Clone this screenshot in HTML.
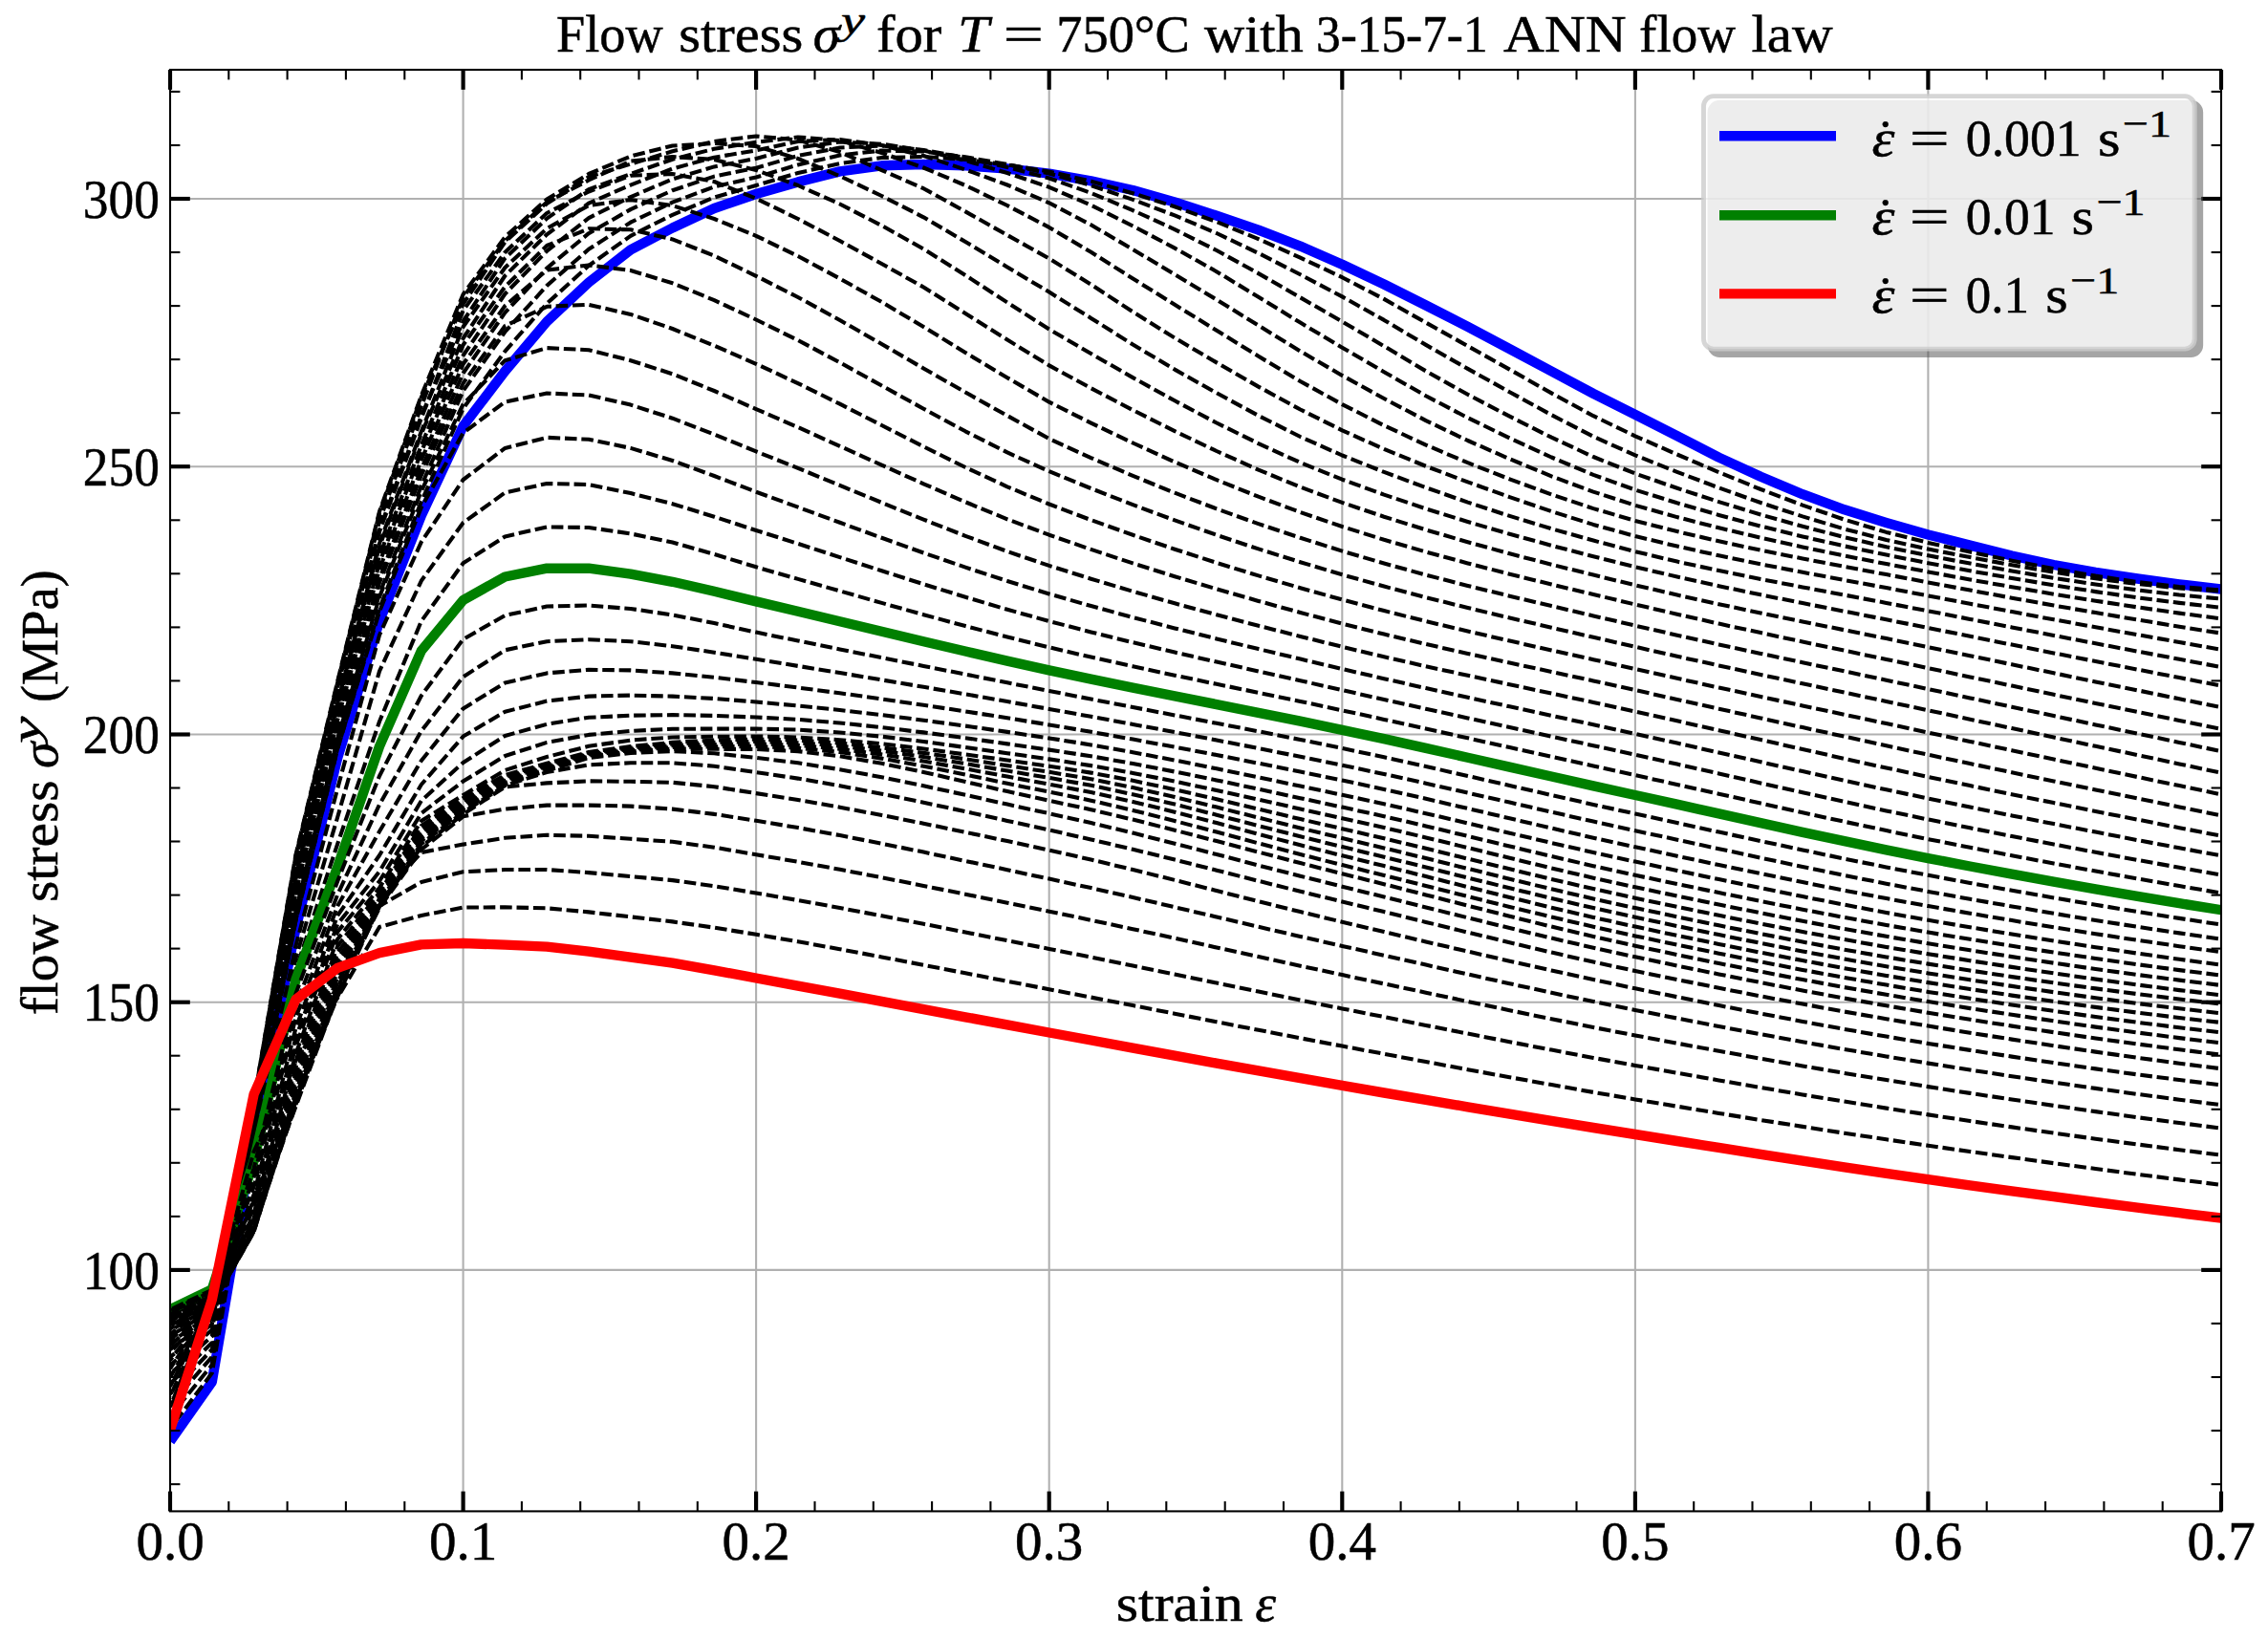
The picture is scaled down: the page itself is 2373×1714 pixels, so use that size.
<!DOCTYPE html>
<html lang="en"><head><meta charset="utf-8"><title>Flow stress for T = 750°C with 3-15-7-1 ANN flow law</title>
<style>html,body{margin:0;padding:0;background:#fff}svg{display:block}text{font-family:'Liberation Serif','DejaVu Serif',serif;fill:#000}.d{fill:none;stroke:#000;stroke-width:4.1;stroke-dasharray:12.6 4.8;stroke-dashoffset:14.3;stroke-linejoin:round}.c{fill:none;stroke-width:10.4;stroke-linejoin:round;stroke-linecap:butt}.g{stroke:#b0b0b0;stroke-width:2.08}.M{stroke:#000;stroke-width:4.17}.m{stroke:#000;stroke-width:2.08}</style></head><body>
<svg xmlns="http://www.w3.org/2000/svg" width="2373" height="1714" viewBox="0 0 2373 1714">
<rect width="2373" height="1714" fill="#fff"/>
<defs><clipPath id="ax"><rect x="178.0" y="73.0" width="2146.0" height="1508.4"/></clipPath></defs>
<g class="g">
<line x1="484.6" y1="73.0" x2="484.6" y2="1581.4"/>
<line x1="791.1" y1="73.0" x2="791.1" y2="1581.4"/>
<line x1="1097.7" y1="73.0" x2="1097.7" y2="1581.4"/>
<line x1="1404.3" y1="73.0" x2="1404.3" y2="1581.4"/>
<line x1="1710.9" y1="73.0" x2="1710.9" y2="1581.4"/>
<line x1="2017.4" y1="73.0" x2="2017.4" y2="1581.4"/>
<line x1="178.0" y1="1328.9" x2="2324.0" y2="1328.9"/>
<line x1="178.0" y1="1048.7" x2="2324.0" y2="1048.7"/>
<line x1="178.0" y1="768.5" x2="2324.0" y2="768.5"/>
<line x1="178.0" y1="488.2" x2="2324.0" y2="488.2"/>
<line x1="178.0" y1="208.0" x2="2324.0" y2="208.0"/>
</g>
<g clip-path="url(#ax)">
<polyline class="c" stroke="#0000ff" points="2324.0,616.5 2280.2,611.4 2236.4,605.5 2192.6,598.8 2148.8,591.0 2105.0,581.5 2061.2,570.6 2017.4,559.5 1973.6,546.9 1929.8,533.3 1886.0,517.2 1842.2,498.8 1798.4,478.6 1754.7,456.2 1710.9,433.8 1667.1,411.8 1623.3,388.5 1579.5,365.2 1535.7,341.9 1491.9,319.5 1448.1,297.5 1404.3,276.7 1360.5,257.6 1316.7,240.6 1272.9,225.7 1229.1,211.5 1185.3,199.0 1141.5,189.3 1097.7,181.7 1053.9,176.5 1010.1,173.3 966.3,172.0 922.5,173.3 878.7,179.4 834.9,190.4 791.1,203.0 747.3,218.0 703.6,238.5 659.8,261.3 616.0,295.5 572.2,336.5 528.4,388.3 484.6,445.9 440.8,539.5 397.0,650.0 353.2,793.0 309.4,972.0 265.6,1188.0 221.8,1445.9 178.0,1508.3"/>
<polyline class="d" points="2324.0,617.5 2280.2,614.0 2236.4,609.0 2192.6,602.6 2148.8,595.1 2105.0,586.7 2061.2,577.5 2017.4,567.9 1973.6,556.9 1929.8,543.7 1886.0,528.6 1842.2,512.0 1798.4,494.2 1754.7,475.5 1710.9,456.3 1667.1,435.2 1623.3,411.4 1579.5,386.6 1535.7,362.1 1491.9,337.6 1448.1,312.9 1404.3,290.2 1360.5,269.6 1316.7,250.1 1272.9,232.1 1229.1,216.3 1185.3,202.2 1141.5,189.6 1097.7,179.5 1053.9,172.5 1010.1,167.0 966.3,164.0 922.5,165.0 878.7,171.0 834.9,181.0 791.1,194.0 747.3,206.5 703.6,224.8 659.8,246.8 616.0,278.0 572.2,317.6 528.4,367.6 484.6,427.5 440.8,524.9 397.0,636.7 353.2,783.7 309.4,963.1 265.6,1183.9 221.8,1436.8 178.0,1494.8"/>
<polyline class="d" points="2324.0,618.7 2280.2,615.5 2236.4,611.0 2192.6,605.3 2148.8,598.7 2105.0,591.2 2061.2,583.1 2017.4,574.6 1973.6,564.9 1929.8,553.5 1886.0,540.4 1842.2,526.0 1798.4,510.4 1754.7,493.8 1710.9,476.4 1667.1,456.8 1623.3,434.2 1579.5,410.2 1535.7,385.9 1491.9,360.9 1448.1,334.9 1404.3,310.4 1360.5,287.3 1316.7,264.9 1272.9,244.0 1229.1,225.4 1185.3,208.9 1141.5,194.0 1097.7,181.5 1053.9,172.0 1010.1,164.3 966.3,158.5 922.5,157.5 878.7,162.5 834.9,172.5 791.1,185.5 747.3,195.4 703.6,211.7 659.8,232.7 616.0,260.8 572.2,298.9 528.4,347.2 484.6,409.0 440.8,508.3 397.0,621.5 353.2,773.1 309.4,952.8 265.6,1179.1 221.8,1428.2 178.0,1482.1"/>
<polyline class="d" points="2324.0,626.6 2280.2,622.5 2236.4,617.4 2192.6,611.5 2148.8,604.8 2105.0,597.5 2061.2,589.6 2017.4,581.3 1973.6,572.3 1929.8,562.1 1886.0,550.8 1842.2,538.5 1798.4,525.1 1754.7,510.8 1710.9,495.5 1667.1,478.0 1623.3,457.7 1579.5,435.7 1535.7,412.8 1491.9,388.3 1448.1,362.2 1404.3,336.5 1360.5,311.3 1316.7,286.1 1272.9,262.0 1229.1,240.1 1185.3,220.1 1141.5,201.9 1097.7,186.5 1053.9,175.0 1010.1,165.0 966.3,157.0 922.5,152.5 878.7,154.5 834.9,163.0 791.1,175.7 747.3,184.6 703.6,199.2 659.8,219.1 616.0,244.2 572.2,280.6 528.4,327.1 484.6,390.5 440.8,490.8 397.0,605.5 353.2,762.0 309.4,942.1 265.6,1174.1 221.8,1419.9 178.0,1470.0"/>
<polyline class="d" points="2324.0,635.8 2280.2,630.9 2236.4,625.3 2192.6,619.1 2148.8,612.3 2105.0,605.0 2061.2,597.3 2017.4,589.2 1973.6,580.6 1929.8,571.4 1886.0,561.4 1842.2,550.6 1798.4,538.9 1754.7,526.3 1710.9,512.6 1667.1,496.9 1623.3,478.5 1579.5,458.4 1535.7,437.2 1491.9,414.2 1448.1,389.2 1404.3,363.7 1360.5,337.6 1316.7,310.7 1272.9,284.2 1229.1,259.6 1185.3,236.5 1141.5,214.7 1097.7,195.8 1053.9,181.0 1010.1,168.0 966.3,157.5 922.5,150.7 878.7,148.5 834.9,154.5 791.1,165.9 747.3,174.4 703.6,187.4 659.8,206.1 616.0,228.1 572.2,262.7 528.4,307.5 484.6,372.0 440.8,472.6 397.0,588.9 353.2,750.4 309.4,930.9 265.6,1169.0 221.8,1412.2 178.0,1458.6"/>
<polyline class="d" points="2324.0,647.4 2280.2,641.6 2236.4,635.4 2192.6,628.7 2148.8,621.7 2105.0,614.2 2061.2,606.5 2017.4,598.4 1973.6,590.1 1929.8,581.5 1886.0,572.4 1842.2,562.7 1798.4,552.3 1754.7,541.1 1710.9,528.8 1667.1,514.6 1623.3,498.3 1579.5,480.2 1535.7,461.0 1491.9,440.1 1448.1,417.0 1404.3,392.9 1360.5,367.5 1316.7,340.6 1272.9,313.5 1229.1,287.1 1185.3,261.0 1141.5,235.3 1097.7,212.3 1053.9,193.5 1010.1,177.5 966.3,163.0 922.5,152.0 878.7,146.0 834.9,148.0 791.1,157.4 747.3,164.7 703.6,176.5 659.8,193.6 616.0,212.7 572.2,245.3 528.4,288.5 484.6,354.0 440.8,454.0 397.0,571.9 353.2,738.6 309.4,919.5 265.6,1163.7 221.8,1405.0 178.0,1447.9"/>
<polyline class="d" points="2324.0,662.6 2280.2,655.7 2236.4,648.5 2192.6,641.1 2148.8,633.5 2105.0,625.7 2061.2,617.6 2017.4,609.4 1973.6,601.1 1929.8,592.9 1886.0,584.5 1842.2,575.7 1798.4,566.3 1754.7,556.1 1710.9,544.9 1667.1,532.1 1623.3,517.4 1579.5,501.3 1535.7,484.2 1491.9,465.6 1448.1,445.2 1404.3,423.1 1360.5,399.0 1316.7,372.8 1272.9,345.8 1229.1,318.8 1185.3,291.5 1141.5,263.8 1097.7,237.9 1053.9,215.0 1010.1,194.0 966.3,175.5 922.5,160.0 878.7,147.0 834.9,143.5 791.1,148.8 747.3,155.8 703.6,166.7 659.8,182.0 616.0,198.1 572.2,228.6 528.4,270.2 484.6,336.0 440.8,435.1 397.0,554.6 353.2,726.5 309.4,907.8 265.6,1158.3 221.8,1398.2 178.0,1437.9"/>
<polyline class="d" points="2324.0,679.7 2280.2,672.0 2236.4,664.2 2192.6,656.3 2148.8,648.3 2105.0,640.1 2061.2,631.8 2017.4,623.4 1973.6,615.1 1929.8,607.0 1886.0,598.8 1842.2,590.3 1798.4,581.3 1754.7,571.6 1710.9,561.0 1667.1,548.9 1623.3,535.1 1579.5,520.1 1535.7,504.4 1491.9,487.8 1448.1,469.9 1404.3,450.3 1360.5,428.5 1316.7,404.6 1272.9,379.4 1229.1,353.6 1185.3,326.3 1141.5,297.7 1097.7,270.5 1053.9,246.0 1010.1,221.4 966.3,197.2 922.5,178.1 878.7,159.0 834.9,146.5 791.1,142.5 747.3,148.0 703.6,158.3 659.8,171.6 616.0,185.1 572.2,213.1 528.4,253.2 484.6,318.0 440.8,415.8 397.0,536.9 353.2,714.2 309.4,896.0 265.6,1152.8 221.8,1391.6 178.0,1428.6"/>
<polyline class="d" points="2324.0,698.0 2280.2,689.8 2236.4,681.6 2192.6,673.3 2148.8,664.9 2105.0,656.4 2061.2,647.9 2017.4,639.3 1973.6,630.9 1929.8,622.6 1886.0,614.4 1842.2,606.0 1798.4,597.1 1754.7,587.6 1710.9,577.1 1667.1,565.6 1623.3,553.3 1579.5,539.9 1535.7,525.6 1491.9,510.2 1448.1,493.9 1404.3,476.5 1360.5,457.0 1316.7,434.9 1272.9,411.2 1229.1,386.6 1185.3,360.5 1141.5,332.9 1097.7,305.6 1053.9,279.5 1010.1,253.0 966.3,227.3 922.5,205.0 878.7,184.2 834.9,166.0 791.1,153.0 747.3,150.0 703.6,152.5 659.8,163.5 616.0,182.0 572.2,208.5 528.4,248.0 484.6,308.0 440.8,414.0 397.0,535.2 353.2,712.8 309.4,894.7 265.6,1152.6 221.8,1385.5 178.0,1420.0"/>
<polyline class="d" points="2324.0,717.6 2280.2,709.1 2236.4,700.6 2192.6,692.0 2148.8,683.4 2105.0,674.6 2061.2,665.8 2017.4,657.0 1973.6,648.3 1929.8,639.7 1886.0,631.1 1842.2,622.3 1798.4,613.2 1754.7,603.5 1710.9,593.2 1667.1,582.3 1623.3,570.8 1579.5,558.8 1535.7,546.0 1491.9,532.3 1448.1,517.6 1404.3,501.7 1360.5,484.0 1316.7,464.1 1272.9,442.5 1229.1,419.3 1185.3,395.1 1141.5,370.0 1097.7,344.5 1053.9,316.5 1010.1,288.0 966.3,260.5 922.5,236.0 878.7,213.5 834.9,194.0 791.1,178.0 747.3,167.0 703.6,164.0 659.8,168.6 616.0,188.5 572.2,211.5 528.4,252.0 484.6,311.0 440.8,425.1 397.0,545.1 353.2,719.4 309.4,901.3 265.6,1156.1 221.8,1379.9 178.0,1412.0"/>
<polyline class="d" points="2324.0,740.2 2280.2,731.3 2236.4,722.3 2192.6,713.4 2148.8,704.3 2105.0,695.3 2061.2,686.2 2017.4,677.1 1973.6,668.1 1929.8,659.3 1886.0,650.4 1842.2,641.5 1798.4,632.2 1754.7,622.5 1710.9,612.3 1667.1,601.6 1623.3,590.7 1579.5,579.3 1535.7,567.2 1491.9,554.4 1448.1,540.7 1404.3,525.9 1360.5,509.6 1316.7,491.6 1272.9,472.0 1229.1,451.1 1185.3,429.1 1141.5,406.2 1097.7,382.4 1053.9,355.5 1010.1,328.0 966.3,300.5 922.5,276.0 878.7,252.0 834.9,229.0 791.1,207.7 747.3,190.0 703.6,182.0 659.8,183.8 616.0,200.5 572.2,223.0 528.4,264.0 484.6,325.0 440.8,437.7 397.0,556.4 353.2,727.0 309.4,908.7 265.6,1160.1 221.8,1375.0 178.0,1404.8"/>
<polyline class="d" points="2324.0,762.8 2280.2,753.9 2236.4,744.9 2192.6,735.9 2148.8,726.8 2105.0,717.6 2061.2,708.4 2017.4,699.1 1973.6,689.9 1929.8,680.7 1886.0,671.5 1842.2,662.1 1798.4,652.6 1754.7,642.7 1710.9,632.5 1667.1,622.0 1623.3,611.5 1579.5,600.7 1535.7,589.4 1491.9,577.5 1448.1,564.8 1404.3,551.0 1360.5,536.0 1316.7,519.7 1272.9,502.1 1229.1,483.4 1185.3,463.5 1141.5,442.6 1097.7,420.7 1053.9,395.2 1010.1,369.0 966.3,342.0 922.5,316.0 878.7,291.5 834.9,268.0 791.1,246.8 747.3,229.0 703.6,215.1 659.8,209.1 616.0,215.0 572.2,239.0 528.4,280.0 484.6,342.0 440.8,451.4 397.0,568.6 353.2,735.2 309.4,916.9 265.6,1164.5 221.8,1370.6 178.0,1398.2"/>
<polyline class="d" points="2324.0,786.1 2280.2,776.9 2236.4,767.6 2192.6,758.4 2148.8,749.1 2105.0,739.7 2061.2,730.4 2017.4,721.0 1973.6,711.7 1929.8,702.4 1886.0,693.2 1842.2,683.9 1798.4,674.4 1754.7,664.7 1710.9,654.6 1667.1,644.4 1623.3,634.1 1579.5,623.7 1535.7,612.9 1491.9,601.6 1448.1,589.5 1404.3,576.6 1360.5,562.8 1316.7,548.1 1272.9,532.4 1229.1,515.7 1185.3,497.9 1141.5,479.1 1097.7,459.0 1053.9,435.0 1010.1,410.5 966.3,385.5 922.5,360.0 878.7,335.0 834.9,311.0 791.1,288.8 747.3,267.6 703.6,250.4 659.8,240.3 616.0,239.3 572.2,257.0 528.4,300.0 484.6,361.0 440.8,466.0 397.0,581.7 353.2,744.0 309.4,925.5 265.6,1169.2 221.8,1366.5 178.0,1392.4"/>
<polyline class="d" points="2324.0,808.7 2280.2,799.4 2236.4,790.1 2192.6,780.8 2148.8,771.5 2105.0,762.1 2061.2,752.7 2017.4,743.3 1973.6,733.9 1929.8,724.6 1886.0,715.3 1842.2,705.9 1798.4,696.4 1754.7,686.8 1710.9,676.8 1667.1,666.8 1623.3,656.7 1579.5,646.5 1535.7,636.0 1491.9,625.1 1448.1,613.6 1404.3,601.3 1360.5,588.2 1316.7,574.4 1272.9,559.8 1229.1,544.4 1185.3,528.2 1141.5,511.1 1097.7,493.2 1053.9,473.4 1010.1,451.3 966.3,427.7 922.5,403.5 878.7,379.3 834.9,356.0 791.1,334.5 747.3,314.1 703.6,296.3 659.8,283.0 616.0,277.5 572.2,282.6 528.4,320.0 484.6,381.0 440.8,481.3 397.0,595.5 353.2,753.2 309.4,934.6 265.6,1174.1 221.8,1362.7 178.0,1387.2"/>
<polyline class="d" points="2324.0,831.3 2280.2,822.1 2236.4,813.0 2192.6,803.7 2148.8,794.5 2105.0,785.2 2061.2,775.9 2017.4,766.5 1973.6,757.1 1929.8,747.8 1886.0,738.4 1842.2,729.0 1798.4,719.5 1754.7,709.8 1710.9,700.0 1667.1,690.2 1623.3,680.4 1579.5,670.6 1535.7,660.5 1491.9,650.1 1448.1,639.1 1404.3,627.5 1360.5,615.2 1316.7,602.4 1272.9,588.9 1229.1,574.7 1185.3,559.8 1141.5,544.1 1097.7,527.5 1053.9,509.3 1010.1,489.0 966.3,467.3 922.5,445.0 878.7,422.7 834.9,401.1 791.1,380.8 747.3,361.7 703.6,344.0 659.8,328.9 616.0,318.8 572.2,320.8 528.4,341.0 484.6,401.0 440.8,497.3 397.0,609.8 353.2,762.8 309.4,944.1 265.6,1179.2 221.8,1359.5 178.0,1382.7"/>
<polyline class="d" points="2324.0,853.3 2280.2,844.5 2236.4,835.5 2192.6,826.5 2148.8,817.4 2105.0,808.3 2061.2,799.0 2017.4,789.7 1973.6,780.3 1929.8,770.7 1886.0,761.1 1842.2,751.4 1798.4,741.7 1754.7,731.9 1710.9,722.1 1667.1,712.4 1623.3,703.0 1579.5,693.5 1535.7,683.9 1491.9,674.0 1448.1,663.6 1404.3,652.6 1360.5,641.0 1316.7,628.9 1272.9,616.3 1229.1,603.2 1185.3,589.4 1141.5,574.9 1097.7,559.7 1053.9,543.3 1010.1,525.3 966.3,506.3 922.5,486.6 878.7,466.8 834.9,447.1 791.1,428.1 747.3,409.0 703.6,391.3 659.8,377.2 616.0,366.2 572.2,364.1 528.4,377.2 484.6,423.0 440.8,513.9 397.0,624.7 353.2,772.7 309.4,953.9 265.6,1184.5 221.8,1357.0 178.0,1378.9"/>
<polyline class="d" points="2324.0,874.6 2280.2,866.2 2236.4,857.6 2192.6,849.0 2148.8,840.1 2105.0,831.2 2061.2,822.1 2017.4,812.9 1973.6,803.5 1929.8,793.9 1886.0,784.0 1842.2,774.1 1798.4,764.2 1754.7,754.3 1710.9,744.5 1667.1,734.9 1623.3,725.6 1579.5,716.2 1535.7,706.8 1491.9,697.2 1448.1,687.3 1404.3,676.8 1360.5,665.9 1316.7,654.8 1272.9,643.3 1229.1,631.3 1185.3,618.8 1141.5,605.7 1097.7,591.9 1053.9,577.0 1010.1,560.8 966.3,543.6 922.5,525.9 878.7,507.9 834.9,489.9 791.1,472.4 747.3,454.6 703.6,437.7 659.8,423.6 616.0,413.5 572.2,411.5 528.4,420.5 484.6,453.0 440.8,531.0 397.0,640.0 353.2,783.0 309.4,964.0 265.6,1190.0 221.8,1354.8 178.0,1375.8"/>
<polyline class="d" points="2324.0,895.4 2280.2,887.3 2236.4,879.1 2192.6,870.6 2148.8,862.1 2105.0,853.4 2061.2,844.5 2017.4,835.5 1973.6,826.3 1929.8,816.8 1886.0,807.1 1842.2,797.3 1798.4,787.5 1754.7,777.6 1710.9,767.9 1667.1,758.3 1623.3,748.8 1579.5,739.3 1535.7,729.8 1491.9,720.1 1448.1,710.2 1404.3,700.0 1360.5,689.6 1316.7,679.1 1272.9,668.4 1229.1,657.4 1185.3,646.0 1141.5,634.1 1097.7,621.5 1053.9,608.0 1010.1,593.6 966.3,578.5 922.5,562.8 878.7,546.8 834.9,530.7 791.1,514.7 747.3,498.0 703.6,482.0 659.8,468.9 616.0,459.8 572.2,457.8 528.4,468.9 484.6,502.0 440.8,567.2 397.0,664.5 353.2,825.0 309.4,990.0 265.6,1196.6 221.8,1352.7 178.0,1373.4"/>
<polyline class="d" points="2324.0,915.5 2280.2,907.8 2236.4,899.9 2192.6,891.8 2148.8,883.5 2105.0,875.0 2061.2,866.3 2017.4,857.5 1973.6,848.4 1929.8,838.9 1886.0,829.2 1842.2,819.4 1798.4,809.4 1754.7,799.6 1710.9,789.8 1667.1,780.2 1623.3,770.6 1579.5,761.0 1535.7,751.4 1491.9,741.8 1448.1,732.0 1404.3,722.1 1360.5,712.2 1316.7,702.4 1272.9,692.6 1229.1,682.5 1185.3,672.2 1141.5,661.4 1097.7,650.0 1053.9,637.8 1010.1,624.8 966.3,611.2 922.5,597.3 878.7,583.1 834.9,568.9 791.1,555.0 747.3,540.7 703.6,527.2 659.8,516.1 616.0,507.0 572.2,506.0 528.4,515.5 484.6,547.0 440.8,607.8 397.0,702.4 353.2,855.0 309.4,1003.0 265.6,1203.0 221.8,1350.9 178.0,1371.7"/>
<polyline class="d" points="2324.0,934.5 2280.2,927.1 2236.4,919.4 2192.6,911.6 2148.8,903.5 2105.0,895.2 2061.2,886.8 2017.4,878.1 1973.6,869.1 1929.8,859.8 1886.0,850.3 1842.2,840.5 1798.4,830.7 1754.7,820.9 1710.9,811.2 1667.1,801.5 1623.3,791.8 1579.5,782.1 1535.7,772.3 1491.9,762.6 1448.1,752.9 1404.3,743.3 1360.5,733.9 1316.7,724.8 1272.9,715.8 1229.1,706.7 1185.3,697.3 1141.5,687.6 1097.7,677.4 1053.9,666.5 1010.1,655.1 966.3,643.2 922.5,630.9 878.7,618.4 834.9,605.9 791.1,593.3 747.3,579.9 703.6,567.5 659.8,558.4 616.0,552.0 572.2,551.4 528.4,561.4 484.6,589.3 440.8,650.0 397.0,755.0 353.2,883.0 309.4,1015.0 265.6,1208.7 221.8,1349.7 178.0,1370.6"/>
<polyline class="c" stroke="#008000" points="2324.0,952.2 2280.2,945.2 2236.4,937.9 2192.6,930.4 2148.8,922.7 2105.0,914.7 2061.2,906.5 2017.4,898.1 1973.6,889.4 1929.8,880.2 1886.0,870.8 1842.2,861.2 1798.4,851.4 1754.7,841.7 1710.9,832.0 1667.1,822.3 1623.3,812.5 1579.5,802.6 1535.7,792.7 1491.9,782.9 1448.1,773.2 1404.3,763.8 1360.5,754.7 1316.7,745.8 1272.9,737.1 1229.1,728.4 1185.3,719.6 1141.5,710.6 1097.7,701.3 1053.9,691.6 1010.1,681.5 966.3,671.2 922.5,660.8 878.7,650.3 834.9,639.8 791.1,629.4 747.3,618.8 703.6,608.8 659.8,600.7 616.0,594.7 572.2,594.7 528.4,603.5 484.6,628.0 440.8,681.0 397.0,781.0 353.2,907.0 309.4,1025.4 265.6,1214.8 221.8,1349.2 178.0,1370.3"/>
<polyline class="d" points="2324.0,967.5 2280.2,960.9 2236.4,954.0 2192.6,946.8 2148.8,939.4 2105.0,931.8 2061.2,923.9 2017.4,915.8 1973.6,907.4 1929.8,898.6 1886.0,889.4 1842.2,880.1 1798.4,870.6 1754.7,861.0 1710.9,851.5 1667.1,841.9 1623.3,832.0 1579.5,822.0 1535.7,812.0 1491.9,802.0 1448.1,792.3 1404.3,783.0 1360.5,774.0 1316.7,765.3 1272.9,756.8 1229.1,748.4 1185.3,740.0 1141.5,731.6 1097.7,723.0 1053.9,714.3 1010.1,705.6 966.3,696.9 922.5,688.2 878.7,679.4 834.9,670.5 791.1,661.6 747.3,652.1 703.6,643.4 659.8,637.0 616.0,633.5 572.2,634.5 528.4,644.0 484.6,668.9 440.8,728.0 397.0,812.0 353.2,922.0 309.4,1040.0 265.6,1222.8 221.8,1349.8 178.0,1370.6"/>
<polyline class="d" points="2324.0,982.7 2280.2,976.4 2236.4,969.8 2192.6,963.0 2148.8,955.8 2105.0,948.4 2061.2,940.8 2017.4,932.9 1973.6,924.7 1929.8,916.0 1886.0,906.9 1842.2,897.6 1798.4,888.2 1754.7,878.7 1710.9,869.2 1667.1,859.6 1623.3,849.7 1579.5,839.6 1535.7,829.6 1491.9,819.7 1448.1,810.0 1404.3,800.7 1360.5,791.8 1316.7,783.0 1272.9,774.5 1229.1,766.1 1185.3,757.9 1141.5,749.8 1097.7,741.9 1053.9,734.1 1010.1,726.4 966.3,718.8 922.5,711.4 878.7,704.1 834.9,696.9 791.1,689.8 747.3,682.7 703.6,676.2 659.8,671.2 616.0,669.2 572.2,671.2 528.4,680.3 484.6,708.2 440.8,765.0 397.0,842.0 353.2,936.0 309.4,1053.0 265.6,1232.2 221.8,1351.5 178.0,1371.6"/>
<polyline class="d" points="2324.0,996.2 2280.2,990.2 2236.4,983.8 2192.6,977.2 2148.8,970.3 2105.0,963.1 2061.2,955.7 2017.4,948.1 1973.6,940.1 1929.8,931.8 1886.0,923.1 1842.2,914.1 1798.4,905.0 1754.7,895.7 1710.9,886.3 1667.1,876.7 1623.3,866.6 1579.5,856.3 1535.7,846.0 1491.9,835.8 1448.1,825.9 1404.3,816.5 1360.5,807.5 1316.7,798.7 1272.9,790.0 1229.1,781.7 1185.3,773.6 1141.5,765.8 1097.7,758.4 1053.9,751.3 1010.1,744.4 966.3,737.8 922.5,731.4 878.7,725.3 834.9,719.5 791.1,714.0 747.3,708.8 703.6,704.4 659.8,701.4 616.0,700.8 572.2,704.4 528.4,714.5 484.6,741.4 440.8,796.0 397.0,870.0 353.2,948.0 309.4,1065.0 265.6,1241.7 221.8,1353.7 178.0,1373.1"/>
<polyline class="d" points="2324.0,1009.6 2280.2,1003.8 2236.4,997.6 2192.6,991.2 2148.8,984.5 2105.0,977.5 2061.2,970.3 2017.4,962.8 1973.6,955.0 1929.8,946.7 1886.0,938.1 1842.2,929.2 1798.4,920.1 1754.7,910.9 1710.9,901.6 1667.1,892.0 1623.3,882.0 1579.5,871.7 1535.7,861.4 1491.9,851.2 1448.1,841.3 1404.3,831.8 1360.5,822.6 1316.7,813.4 1272.9,804.3 1229.1,795.5 1185.3,787.2 1141.5,779.4 1097.7,772.4 1053.9,765.9 1010.1,759.6 966.3,753.7 922.5,748.1 878.7,743.0 834.9,738.5 791.1,734.5 747.3,731.0 703.6,728.6 659.8,727.6 616.0,728.6 572.2,733.6 528.4,744.7 484.6,770.6 440.8,821.0 397.0,895.0 353.2,958.0 309.4,1076.0 265.6,1250.0 221.8,1356.0 178.0,1375.3"/>
<polyline class="d" points="2324.0,1020.6 2280.2,1015.1 2236.4,1009.2 2192.6,1003.0 2148.8,996.6 2105.0,989.8 2061.2,982.8 2017.4,975.6 1973.6,968.0 1929.8,960.0 1886.0,951.7 1842.2,943.0 1798.4,934.1 1754.7,925.0 1710.9,915.8 1667.1,906.2 1623.3,896.0 1579.5,885.5 1535.7,874.9 1491.9,864.4 1448.1,854.2 1404.3,844.6 1360.5,835.2 1316.7,825.7 1272.9,816.4 1229.1,807.5 1185.3,799.0 1141.5,791.3 1097.7,784.6 1053.9,778.4 1010.1,772.2 966.3,766.4 922.5,761.1 878.7,756.5 834.9,752.9 791.1,750.5 747.3,748.9 703.6,748.1 659.8,748.7 616.0,750.8 572.2,757.8 528.4,769.9 484.6,798.0 440.8,838.0 397.0,912.0 353.2,967.0 309.4,1086.0 265.6,1257.2 221.8,1358.0 178.0,1378.2"/>
<polyline class="d" points="2324.0,1031.0 2280.2,1025.6 2236.4,1020.0 2192.6,1014.0 2148.8,1007.7 2105.0,1001.1 2061.2,994.3 2017.4,987.2 1973.6,979.8 1929.8,972.0 1886.0,963.8 1842.2,955.3 1798.4,946.5 1754.7,937.5 1710.9,928.3 1667.1,918.7 1623.3,908.4 1579.5,897.8 1535.7,887.1 1491.9,876.4 1448.1,866.0 1404.3,856.2 1360.5,846.5 1316.7,836.7 1272.9,827.0 1229.1,817.6 1185.3,808.9 1141.5,801.1 1097.7,794.4 1053.9,788.2 1010.1,782.0 966.3,776.0 922.5,770.7 878.7,766.5 834.9,763.6 791.1,762.6 747.3,762.6 703.6,762.8 659.8,764.9 616.0,768.9 572.2,776.9 528.4,791.0 484.6,817.5 440.8,851.0 397.0,922.0 353.2,975.0 309.4,1095.0 265.6,1263.9 221.8,1359.9 178.0,1381.6"/>
<polyline class="d" points="2324.0,1041.3 2280.2,1036.1 2236.4,1030.5 2192.6,1024.6 2148.8,1018.4 2105.0,1011.9 2061.2,1005.2 2017.4,998.2 1973.6,990.9 1929.8,983.1 1886.0,975.0 1842.2,966.6 1798.4,957.8 1754.7,948.9 1710.9,939.7 1667.1,930.1 1623.3,919.9 1579.5,909.3 1535.7,898.6 1491.9,887.8 1448.1,877.3 1404.3,867.2 1360.5,857.1 1316.7,846.6 1272.9,836.2 1229.1,826.2 1185.3,816.8 1141.5,808.6 1097.7,801.7 1053.9,795.5 1010.1,789.4 966.3,783.5 922.5,778.3 878.7,774.2 834.9,771.5 791.1,770.5 747.3,770.8 703.6,771.5 659.8,774.6 616.0,780.8 572.2,792.0 528.4,806.0 484.6,832.0 440.8,859.0 397.0,929.0 353.2,982.7 309.4,1102.8 265.6,1269.9 221.8,1362.0 178.0,1385.7"/>
<polyline class="d" points="2324.0,1050.5 2280.2,1045.5 2236.4,1040.1 2192.6,1034.4 2148.8,1028.4 2105.0,1022.1 2061.2,1015.5 2017.4,1008.6 1973.6,1001.4 1929.8,993.7 1886.0,985.6 1842.2,977.1 1798.4,968.3 1754.7,959.3 1710.9,950.1 1667.1,940.5 1623.3,930.3 1579.5,919.7 1535.7,908.9 1491.9,898.1 1448.1,887.4 1404.3,877.0 1360.5,866.5 1316.7,855.6 1272.9,844.6 1229.1,834.0 1185.3,824.1 1141.5,815.2 1097.7,807.8 1053.9,801.1 1010.1,794.3 966.3,787.9 922.5,782.2 878.7,777.6 834.9,774.6 791.1,773.5 747.3,774.5 703.6,776.9 659.8,781.1 616.0,787.0 572.2,798.8 528.4,811.0 484.6,835.0 440.8,864.0 397.0,934.0 353.2,990.0 309.4,1110.0 265.6,1275.0 221.8,1364.0 178.0,1390.4"/>
<polyline class="d" points="2324.0,1060.3 2280.2,1055.3 2236.4,1050.0 2192.6,1044.2 2148.8,1038.2 2105.0,1031.9 2061.2,1025.3 2017.4,1018.4 1973.6,1011.2 1929.8,1003.5 1886.0,995.4 1842.2,986.9 1798.4,978.1 1754.7,969.0 1710.9,959.8 1667.1,950.1 1623.3,939.9 1579.5,929.3 1535.7,918.5 1491.9,907.5 1448.1,896.7 1404.3,886.1 1360.5,875.3 1316.7,864.1 1272.9,852.7 1229.1,841.6 1185.3,831.2 1141.5,821.8 1097.7,813.9 1053.9,806.6 1010.1,799.1 966.3,792.0 922.5,785.7 878.7,780.6 834.9,777.2 791.1,776.0 747.3,776.8 703.6,778.5 659.8,782.5 616.0,788.1 572.2,800.2 528.4,813.0 484.6,838.0 440.8,867.7 397.0,937.4 353.2,996.9 309.4,1116.9 265.6,1279.5 221.8,1365.4 178.0,1395.8"/>
<polyline class="d" points="2324.0,1070.0 2280.2,1065.0 2236.4,1059.6 2192.6,1053.9 2148.8,1047.9 2105.0,1041.6 2061.2,1035.0 2017.4,1028.1 1973.6,1020.9 1929.8,1013.2 1886.0,1005.1 1842.2,996.7 1798.4,987.9 1754.7,978.9 1710.9,969.6 1667.1,959.9 1623.3,949.7 1579.5,939.0 1535.7,928.1 1491.9,917.1 1448.1,906.1 1404.3,895.3 1360.5,884.3 1316.7,872.8 1272.9,861.1 1229.1,849.7 1185.3,838.9 1141.5,829.1 1097.7,820.6 1053.9,812.6 1010.1,804.4 966.3,796.5 922.5,789.4 878.7,783.7 834.9,779.9 791.1,778.5 747.3,779.0 703.6,780.2 659.8,783.8 616.0,789.2 572.2,801.8 528.4,815.0 484.6,841.0 440.8,871.0 397.0,940.0 353.2,1003.6 309.4,1123.6 265.6,1283.5 221.8,1366.0 178.0,1401.8"/>
<polyline class="d" points="2324.0,1080.4 2280.2,1075.3 2236.4,1069.8 2192.6,1064.0 2148.8,1057.9 2105.0,1051.5 2061.2,1044.8 2017.4,1037.9 1973.6,1030.6 1929.8,1022.9 1886.0,1014.9 1842.2,1006.4 1798.4,997.7 1754.7,988.6 1710.9,979.4 1667.1,969.7 1623.3,959.5 1579.5,948.9 1535.7,938.0 1491.9,927.0 1448.1,916.0 1404.3,905.1 1360.5,894.0 1316.7,882.4 1272.9,870.6 1229.1,859.0 1185.3,847.9 1141.5,837.7 1097.7,828.6 1053.9,819.8 1010.1,810.6 966.3,801.7 922.5,793.6 878.7,787.0 834.9,782.6 791.1,781.0 747.3,781.3 703.6,782.0 659.8,785.0 616.0,790.4 572.2,803.2 528.4,817.0 484.6,843.5 440.8,874.1 397.0,942.2 353.2,1010.0 309.4,1130.0 265.6,1286.0 221.8,1366.0 178.0,1408.4"/>
<polyline class="d" points="2324.0,1091.4 2280.2,1086.1 2236.4,1080.5 2192.6,1074.6 2148.8,1068.3 2105.0,1061.8 2061.2,1055.1 2017.4,1048.1 1973.6,1040.8 1929.8,1033.1 1886.0,1025.1 1842.2,1016.7 1798.4,1008.0 1754.7,999.0 1710.9,989.7 1667.1,979.9 1623.3,969.6 1579.5,958.7 1535.7,947.6 1491.9,936.4 1448.1,925.2 1404.3,914.2 1360.5,903.1 1316.7,891.6 1272.9,880.1 1229.1,868.7 1185.3,857.6 1141.5,847.2 1097.7,837.7 1053.9,828.1 1010.1,818.0 966.3,807.9 922.5,798.8 878.7,791.3 834.9,786.1 791.1,784.0 747.3,783.8 703.6,783.6 659.8,786.4 616.0,791.5 572.2,804.8 528.4,819.0 484.6,846.0 440.8,877.0 397.0,944.0 353.2,1016.3 309.4,1136.4 265.6,1287.5 221.8,1366.0 178.0,1415.6"/>
<polyline class="d" points="2324.0,1103.7 2280.2,1098.3 2236.4,1092.5 2192.6,1086.5 2148.8,1080.2 2105.0,1073.6 2061.2,1066.8 2017.4,1059.7 1973.6,1052.3 1929.8,1044.6 1886.0,1036.5 1842.2,1028.1 1798.4,1019.4 1754.7,1010.5 1710.9,1001.3 1667.1,991.7 1623.3,981.6 1579.5,971.1 1535.7,960.3 1491.9,949.4 1448.1,938.5 1404.3,927.7 1360.5,916.7 1316.7,905.5 1272.9,894.0 1229.1,882.7 1185.3,871.6 1141.5,861.1 1097.7,851.2 1053.9,841.6 1010.1,831.8 966.3,822.3 922.5,813.3 878.7,805.2 834.9,798.3 791.1,792.9 747.3,788.3 703.6,786.0 659.8,788.0 616.0,793.0 572.2,806.5 528.4,821.0 484.6,848.0 440.8,880.0 397.0,945.6 353.2,1022.5 309.4,1142.6 265.6,1288.6 221.8,1366.0 178.0,1423.5"/>
<polyline class="d" points="2324.0,1118.3 2280.2,1112.7 2236.4,1106.8 2192.6,1100.6 2148.8,1094.2 2105.0,1087.6 2061.2,1080.7 2017.4,1073.6 1973.6,1066.2 1929.8,1058.6 1886.0,1050.6 1842.2,1042.4 1798.4,1033.8 1754.7,1025.0 1710.9,1016.0 1667.1,1006.5 1623.3,996.6 1579.5,986.2 1535.7,975.6 1491.9,964.9 1448.1,954.1 1404.3,943.5 1360.5,932.8 1316.7,921.8 1272.9,910.7 1229.1,899.6 1185.3,888.8 1141.5,878.4 1097.7,868.5 1053.9,858.9 1010.1,849.2 966.3,839.7 922.5,830.7 878.7,822.2 834.9,814.6 791.1,808.1 747.3,801.7 703.6,798.3 659.8,798.3 616.0,800.3 572.2,808.0 528.4,822.0 484.6,850.0 440.8,883.0 397.0,947.0 353.2,1028.0 309.4,1148.0 265.6,1289.0 221.8,1366.0 178.0,1432.0"/>
<polyline class="d" points="2324.0,1135.4 2280.2,1130.0 2236.4,1124.4 2192.6,1118.4 2148.8,1112.1 2105.0,1105.6 2061.2,1098.9 2017.4,1091.9 1973.6,1084.6 1929.8,1076.9 1886.0,1068.9 1842.2,1060.6 1798.4,1052.0 1754.7,1043.2 1710.9,1034.3 1667.1,1025.1 1623.3,1015.5 1579.5,1005.7 1535.7,995.6 1491.9,985.4 1448.1,975.0 1404.3,964.7 1360.5,954.1 1316.7,943.2 1272.9,932.0 1229.1,920.9 1185.3,910.0 1141.5,899.5 1097.7,889.6 1053.9,880.1 1010.1,870.8 966.3,861.7 922.5,853.0 878.7,844.7 834.9,837.0 791.1,830.1 747.3,823.2 703.6,818.8 659.8,817.8 616.0,817.4 572.2,819.4 528.4,823.4 484.6,852.0 440.8,886.0 397.0,948.9 353.2,1032.9 309.4,1152.5 265.6,1287.9 221.8,1366.0 178.0,1441.1"/>
<polyline class="d" points="2324.0,1156.2 2280.2,1150.7 2236.4,1144.9 2192.6,1138.9 2148.8,1132.7 2105.0,1126.2 2061.2,1119.5 2017.4,1112.6 1973.6,1105.4 1929.8,1098.0 1886.0,1090.2 1842.2,1082.2 1798.4,1074.0 1754.7,1065.5 1710.9,1056.9 1667.1,1048.0 1623.3,1038.8 1579.5,1029.2 1535.7,1019.5 1491.9,1009.6 1448.1,999.7 1404.3,989.9 1360.5,979.9 1316.7,969.8 1272.9,959.5 1229.1,949.2 1185.3,939.0 1141.5,929.1 1097.7,919.6 1053.9,910.2 1010.1,900.9 966.3,891.6 922.5,882.7 878.7,874.1 834.9,866.1 791.1,858.8 747.3,851.9 703.6,846.6 659.8,843.6 616.0,842.6 572.2,842.6 528.4,846.6 484.6,854.3 440.8,889.0 397.0,950.0 353.2,1037.0 309.4,1156.0 265.6,1285.0 221.8,1365.7 178.0,1450.9"/>
<polyline class="d" points="2324.0,1180.6 2280.2,1175.0 2236.4,1169.2 2192.6,1163.1 2148.8,1156.9 2105.0,1150.5 2061.2,1143.9 2017.4,1137.1 1973.6,1130.1 1929.8,1122.9 1886.0,1115.4 1842.2,1107.7 1798.4,1099.8 1754.7,1091.7 1710.9,1083.5 1667.1,1075.0 1623.3,1066.2 1579.5,1057.2 1535.7,1048.0 1491.9,1038.7 1448.1,1029.4 1404.3,1020.1 1360.5,1010.7 1316.7,1001.1 1272.9,991.5 1229.1,981.8 1185.3,972.2 1141.5,962.8 1097.7,953.7 1053.9,944.7 1010.1,935.7 966.3,926.9 922.5,918.2 878.7,909.8 834.9,901.8 791.1,894.2 747.3,886.7 703.6,880.8 659.8,877.8 616.0,874.8 572.2,873.8 528.4,876.8 484.6,883.6 440.8,892.0 397.0,940.0 353.2,1040.5 309.4,1158.0 265.6,1275.3 221.8,1364.8 178.0,1461.3"/>
<polyline class="d" points="2324.0,1208.7 2280.2,1203.2 2236.4,1197.5 2192.6,1191.7 2148.8,1185.6 2105.0,1179.4 2061.2,1173.0 2017.4,1166.4 1973.6,1159.6 1929.8,1152.6 1886.0,1145.4 1842.2,1138.0 1798.4,1130.4 1754.7,1122.7 1710.9,1114.9 1667.1,1106.9 1623.3,1098.6 1579.5,1090.2 1535.7,1081.6 1491.9,1072.9 1448.1,1064.1 1404.3,1055.4 1360.5,1046.6 1316.7,1037.6 1272.9,1028.6 1229.1,1019.6 1185.3,1010.5 1141.5,1001.6 1097.7,992.9 1053.9,984.2 1010.1,975.5 966.3,966.8 922.5,958.3 878.7,950.0 834.9,942.0 791.1,934.5 747.3,927.2 703.6,921.1 659.8,917.1 616.0,913.1 572.2,910.0 528.4,910.0 484.6,912.3 440.8,923.0 397.0,948.0 353.2,1043.0 309.4,1150.0 265.6,1255.0 221.8,1363.4 178.0,1472.3"/>
<polyline class="d" points="2324.0,1239.8 2280.2,1234.4 2236.4,1228.8 2192.6,1223.0 2148.8,1217.2 2105.0,1211.1 2061.2,1205.0 2017.4,1198.7 1973.6,1192.3 1929.8,1185.7 1886.0,1178.9 1842.2,1172.0 1798.4,1164.9 1754.7,1157.7 1710.9,1150.4 1667.1,1142.9 1623.3,1135.1 1579.5,1127.2 1535.7,1119.2 1491.9,1111.0 1448.1,1102.8 1404.3,1094.6 1360.5,1086.3 1316.7,1077.8 1272.9,1069.3 1229.1,1060.7 1185.3,1052.1 1141.5,1043.6 1097.7,1035.2 1053.9,1026.8 1010.1,1018.3 966.3,1009.8 922.5,1001.4 878.7,993.2 834.9,985.3 791.1,977.8 747.3,970.7 703.6,964.4 659.8,959.4 616.0,954.4 572.2,950.3 528.4,949.3 484.6,949.6 440.8,958.0 397.0,970.0 353.2,1044.0 309.4,1110.0 265.6,1205.0 221.8,1361.8 178.0,1483.9"/>
<polyline class="c" stroke="#ff0000" points="2324.0,1274.6 2280.2,1269.2 2236.4,1263.7 2192.6,1258.0 2148.8,1252.2 2105.0,1246.3 2061.2,1240.3 2017.4,1234.1 1973.6,1227.8 1929.8,1221.3 1886.0,1214.6 1842.2,1207.8 1798.4,1200.9 1754.7,1194.0 1710.9,1187.0 1667.1,1180.0 1623.3,1172.8 1579.5,1165.6 1535.7,1158.3 1491.9,1150.9 1448.1,1143.5 1404.3,1135.9 1360.5,1128.2 1316.7,1120.4 1272.9,1112.6 1229.1,1104.6 1185.3,1096.6 1141.5,1088.5 1097.7,1080.5 1053.9,1072.4 1010.1,1064.3 966.3,1056.1 922.5,1047.9 878.7,1039.7 834.9,1031.6 791.1,1023.5 747.3,1015.3 703.6,1007.7 659.8,1001.7 616.0,995.6 572.2,990.6 528.4,988.6 484.6,987.0 440.8,988.4 397.0,997.2 353.2,1012.8 309.4,1046.0 265.6,1145.0 221.8,1360.0 178.0,1496.2"/>
</g>
<g class="m">
<line x1="239.3" y1="1581.4" x2="239.3" y2="1571.0"/><line x1="239.3" y1="73.0" x2="239.3" y2="83.4"/>
<line x1="300.6" y1="1581.4" x2="300.6" y2="1571.0"/><line x1="300.6" y1="73.0" x2="300.6" y2="83.4"/>
<line x1="361.9" y1="1581.4" x2="361.9" y2="1571.0"/><line x1="361.9" y1="73.0" x2="361.9" y2="83.4"/>
<line x1="423.3" y1="1581.4" x2="423.3" y2="1571.0"/><line x1="423.3" y1="73.0" x2="423.3" y2="83.4"/>
<line x1="545.9" y1="1581.4" x2="545.9" y2="1571.0"/><line x1="545.9" y1="73.0" x2="545.9" y2="83.4"/>
<line x1="607.2" y1="1581.4" x2="607.2" y2="1571.0"/><line x1="607.2" y1="73.0" x2="607.2" y2="83.4"/>
<line x1="668.5" y1="1581.4" x2="668.5" y2="1571.0"/><line x1="668.5" y1="73.0" x2="668.5" y2="83.4"/>
<line x1="729.8" y1="1581.4" x2="729.8" y2="1571.0"/><line x1="729.8" y1="73.0" x2="729.8" y2="83.4"/>
<line x1="852.5" y1="1581.4" x2="852.5" y2="1571.0"/><line x1="852.5" y1="73.0" x2="852.5" y2="83.4"/>
<line x1="913.8" y1="1581.4" x2="913.8" y2="1571.0"/><line x1="913.8" y1="73.0" x2="913.8" y2="83.4"/>
<line x1="975.1" y1="1581.4" x2="975.1" y2="1571.0"/><line x1="975.1" y1="73.0" x2="975.1" y2="83.4"/>
<line x1="1036.4" y1="1581.4" x2="1036.4" y2="1571.0"/><line x1="1036.4" y1="73.0" x2="1036.4" y2="83.4"/>
<line x1="1159.0" y1="1581.4" x2="1159.0" y2="1571.0"/><line x1="1159.0" y1="73.0" x2="1159.0" y2="83.4"/>
<line x1="1220.3" y1="1581.4" x2="1220.3" y2="1571.0"/><line x1="1220.3" y1="73.0" x2="1220.3" y2="83.4"/>
<line x1="1281.7" y1="1581.4" x2="1281.7" y2="1571.0"/><line x1="1281.7" y1="73.0" x2="1281.7" y2="83.4"/>
<line x1="1343.0" y1="1581.4" x2="1343.0" y2="1571.0"/><line x1="1343.0" y1="73.0" x2="1343.0" y2="83.4"/>
<line x1="1465.6" y1="1581.4" x2="1465.6" y2="1571.0"/><line x1="1465.6" y1="73.0" x2="1465.6" y2="83.4"/>
<line x1="1526.9" y1="1581.4" x2="1526.9" y2="1571.0"/><line x1="1526.9" y1="73.0" x2="1526.9" y2="83.4"/>
<line x1="1588.2" y1="1581.4" x2="1588.2" y2="1571.0"/><line x1="1588.2" y1="73.0" x2="1588.2" y2="83.4"/>
<line x1="1649.5" y1="1581.4" x2="1649.5" y2="1571.0"/><line x1="1649.5" y1="73.0" x2="1649.5" y2="83.4"/>
<line x1="1772.2" y1="1581.4" x2="1772.2" y2="1571.0"/><line x1="1772.2" y1="73.0" x2="1772.2" y2="83.4"/>
<line x1="1833.5" y1="1581.4" x2="1833.5" y2="1571.0"/><line x1="1833.5" y1="73.0" x2="1833.5" y2="83.4"/>
<line x1="1894.8" y1="1581.4" x2="1894.8" y2="1571.0"/><line x1="1894.8" y1="73.0" x2="1894.8" y2="83.4"/>
<line x1="1956.1" y1="1581.4" x2="1956.1" y2="1571.0"/><line x1="1956.1" y1="73.0" x2="1956.1" y2="83.4"/>
<line x1="2078.7" y1="1581.4" x2="2078.7" y2="1571.0"/><line x1="2078.7" y1="73.0" x2="2078.7" y2="83.4"/>
<line x1="2140.1" y1="1581.4" x2="2140.1" y2="1571.0"/><line x1="2140.1" y1="73.0" x2="2140.1" y2="83.4"/>
<line x1="2201.4" y1="1581.4" x2="2201.4" y2="1571.0"/><line x1="2201.4" y1="73.0" x2="2201.4" y2="83.4"/>
<line x1="2262.7" y1="1581.4" x2="2262.7" y2="1571.0"/><line x1="2262.7" y1="73.0" x2="2262.7" y2="83.4"/>
<line x1="178.0" y1="1553.1" x2="188.4" y2="1553.1"/><line x1="2324.0" y1="1553.1" x2="2313.6" y2="1553.1"/>
<line x1="178.0" y1="1497.0" x2="188.4" y2="1497.0"/><line x1="2324.0" y1="1497.0" x2="2313.6" y2="1497.0"/>
<line x1="178.0" y1="1441.0" x2="188.4" y2="1441.0"/><line x1="2324.0" y1="1441.0" x2="2313.6" y2="1441.0"/>
<line x1="178.0" y1="1384.9" x2="188.4" y2="1384.9"/><line x1="2324.0" y1="1384.9" x2="2313.6" y2="1384.9"/>
<line x1="178.0" y1="1272.9" x2="188.4" y2="1272.9"/><line x1="2324.0" y1="1272.9" x2="2313.6" y2="1272.9"/>
<line x1="178.0" y1="1216.8" x2="188.4" y2="1216.8"/><line x1="2324.0" y1="1216.8" x2="2313.6" y2="1216.8"/>
<line x1="178.0" y1="1160.8" x2="188.4" y2="1160.8"/><line x1="2324.0" y1="1160.8" x2="2313.6" y2="1160.8"/>
<line x1="178.0" y1="1104.7" x2="188.4" y2="1104.7"/><line x1="2324.0" y1="1104.7" x2="2313.6" y2="1104.7"/>
<line x1="178.0" y1="992.6" x2="188.4" y2="992.6"/><line x1="2324.0" y1="992.6" x2="2313.6" y2="992.6"/>
<line x1="178.0" y1="936.6" x2="188.4" y2="936.6"/><line x1="2324.0" y1="936.6" x2="2313.6" y2="936.6"/>
<line x1="178.0" y1="880.5" x2="188.4" y2="880.5"/><line x1="2324.0" y1="880.5" x2="2313.6" y2="880.5"/>
<line x1="178.0" y1="824.5" x2="188.4" y2="824.5"/><line x1="2324.0" y1="824.5" x2="2313.6" y2="824.5"/>
<line x1="178.0" y1="712.4" x2="188.4" y2="712.4"/><line x1="2324.0" y1="712.4" x2="2313.6" y2="712.4"/>
<line x1="178.0" y1="656.4" x2="188.4" y2="656.4"/><line x1="2324.0" y1="656.4" x2="2313.6" y2="656.4"/>
<line x1="178.0" y1="600.3" x2="188.4" y2="600.3"/><line x1="2324.0" y1="600.3" x2="2313.6" y2="600.3"/>
<line x1="178.0" y1="544.3" x2="188.4" y2="544.3"/><line x1="2324.0" y1="544.3" x2="2313.6" y2="544.3"/>
<line x1="178.0" y1="432.2" x2="188.4" y2="432.2"/><line x1="2324.0" y1="432.2" x2="2313.6" y2="432.2"/>
<line x1="178.0" y1="376.1" x2="188.4" y2="376.1"/><line x1="2324.0" y1="376.1" x2="2313.6" y2="376.1"/>
<line x1="178.0" y1="320.1" x2="188.4" y2="320.1"/><line x1="2324.0" y1="320.1" x2="2313.6" y2="320.1"/>
<line x1="178.0" y1="264.0" x2="188.4" y2="264.0"/><line x1="2324.0" y1="264.0" x2="2313.6" y2="264.0"/>
<line x1="178.0" y1="152.0" x2="188.4" y2="152.0"/><line x1="2324.0" y1="152.0" x2="2313.6" y2="152.0"/>
<line x1="178.0" y1="95.9" x2="188.4" y2="95.9"/><line x1="2324.0" y1="95.9" x2="2313.6" y2="95.9"/>
</g><g class="M">
<line x1="178.0" y1="1581.4" x2="178.0" y2="1560.6000000000001"/><line x1="178.0" y1="73.0" x2="178.0" y2="93.8"/>
<line x1="484.6" y1="1581.4" x2="484.6" y2="1560.6000000000001"/><line x1="484.6" y1="73.0" x2="484.6" y2="93.8"/>
<line x1="791.1" y1="1581.4" x2="791.1" y2="1560.6000000000001"/><line x1="791.1" y1="73.0" x2="791.1" y2="93.8"/>
<line x1="1097.7" y1="1581.4" x2="1097.7" y2="1560.6000000000001"/><line x1="1097.7" y1="73.0" x2="1097.7" y2="93.8"/>
<line x1="1404.3" y1="1581.4" x2="1404.3" y2="1560.6000000000001"/><line x1="1404.3" y1="73.0" x2="1404.3" y2="93.8"/>
<line x1="1710.9" y1="1581.4" x2="1710.9" y2="1560.6000000000001"/><line x1="1710.9" y1="73.0" x2="1710.9" y2="93.8"/>
<line x1="2017.4" y1="1581.4" x2="2017.4" y2="1560.6000000000001"/><line x1="2017.4" y1="73.0" x2="2017.4" y2="93.8"/>
<line x1="2324.0" y1="1581.4" x2="2324.0" y2="1560.6000000000001"/><line x1="2324.0" y1="73.0" x2="2324.0" y2="93.8"/>
<line x1="178.0" y1="1328.9" x2="198.8" y2="1328.9"/><line x1="2324.0" y1="1328.9" x2="2303.2" y2="1328.9"/>
<line x1="178.0" y1="1048.7" x2="198.8" y2="1048.7"/><line x1="2324.0" y1="1048.7" x2="2303.2" y2="1048.7"/>
<line x1="178.0" y1="768.5" x2="198.8" y2="768.5"/><line x1="2324.0" y1="768.5" x2="2303.2" y2="768.5"/>
<line x1="178.0" y1="488.2" x2="198.8" y2="488.2"/><line x1="2324.0" y1="488.2" x2="2303.2" y2="488.2"/>
<line x1="178.0" y1="208.0" x2="198.8" y2="208.0"/><line x1="2324.0" y1="208.0" x2="2303.2" y2="208.0"/>
</g>
<rect x="178.0" y="73.0" width="2146.0" height="1508.4" fill="none" stroke="#000" stroke-width="2.08"/>
<g>
<rect x="1789" y="107.1" width="513.7" height="264.5" rx="10.4" ry="10.4" fill="#4d4d4d" stroke="#4d4d4d" stroke-width="4.9" opacity="0.5"/>
<rect x="1782.5" y="100.6" width="513.7" height="264.5" rx="10.4" ry="10.4" fill="#fff" fill-opacity="0.8" stroke="#cccccc" stroke-opacity="0.8" stroke-width="4.9"/>
<line x1="1799" y1="142.2" x2="1921" y2="142.2" stroke="#0000ff" stroke-width="10.4"/>
<line x1="1799" y1="225.3" x2="1921" y2="225.3" stroke="#008000" stroke-width="10.4"/>
<line x1="1799" y1="307.4" x2="1921" y2="307.4" stroke="#ff0000" stroke-width="10.4"/>
</g>
<g font-size="55" stroke="#000" stroke-width="0.5">
<text x="178.0" y="1631.7" text-anchor="middle" font-size="57">0.0</text>
<text x="484.6" y="1631.7" text-anchor="middle" font-size="57">0.1</text>
<text x="791.1" y="1631.7" text-anchor="middle" font-size="57">0.2</text>
<text x="1097.7" y="1631.7" text-anchor="middle" font-size="57">0.3</text>
<text x="1404.3" y="1631.7" text-anchor="middle" font-size="57">0.4</text>
<text x="1710.9" y="1631.7" text-anchor="middle" font-size="57">0.5</text>
<text x="2017.4" y="1631.7" text-anchor="middle" font-size="57">0.6</text>
<text x="2324.0" y="1631.7" text-anchor="middle" font-size="57">0.7</text>
<text x="166.8" y="1348.6" text-anchor="end" font-size="57" textLength="80" lengthAdjust="spacingAndGlyphs">100</text>
<text x="166.8" y="1068.4" text-anchor="end" font-size="57" textLength="80" lengthAdjust="spacingAndGlyphs">150</text>
<text x="166.8" y="788.2" text-anchor="end" font-size="57" textLength="80" lengthAdjust="spacingAndGlyphs">200</text>
<text x="166.8" y="507.9" text-anchor="end" font-size="57" textLength="80" lengthAdjust="spacingAndGlyphs">250</text>
<text x="166.8" y="227.7" text-anchor="end" font-size="57" textLength="80" lengthAdjust="spacingAndGlyphs">300</text>
<text x="582.1" y="54" textLength="111.6" lengthAdjust="spacingAndGlyphs">Flow</text>
<text x="710.2" y="54" textLength="130.1" lengthAdjust="spacingAndGlyphs">stress</text>
<text x="850.7" y="54" textLength="28.2" lengthAdjust="spacingAndGlyphs" font-style="italic">σ</text>
<text x="917.0" y="54" textLength="68.4" lengthAdjust="spacingAndGlyphs">for</text>
<text x="1001.9" y="54" textLength="32.9" lengthAdjust="spacingAndGlyphs" font-style="italic">T</text>
<text x="1049.7" y="54" textLength="42.2" lengthAdjust="spacingAndGlyphs">=</text>
<text x="1105.3" y="54" textLength="139.6" lengthAdjust="spacingAndGlyphs">750°C</text>
<text x="1259.9" y="54" textLength="103.8" lengthAdjust="spacingAndGlyphs">with</text>
<text x="1377.1" y="54" textLength="179.5" lengthAdjust="spacingAndGlyphs">3-15-7-1</text>
<text x="1573.1" y="54" textLength="128.6" lengthAdjust="spacingAndGlyphs">ANN</text>
<text x="1715.1" y="54" textLength="100.8" lengthAdjust="spacingAndGlyphs">flow</text>
<text x="1832.4" y="54" textLength="85.3" lengthAdjust="spacingAndGlyphs">law</text>
<text x="880.0" y="35" textLength="25.0" lengthAdjust="spacingAndGlyphs" font-style="italic" font-size="40">y</text>
<text x="1167.8" y="1696.1" textLength="132.9" lengthAdjust="spacingAndGlyphs">strain</text>
<text x="1313.3" y="1696.1" textLength="21.8" lengthAdjust="spacingAndGlyphs" font-style="italic">ε</text>
<g transform="translate(60.3,1061.3) rotate(-90)">
<text x="-1.0" y="0" textLength="105.2" lengthAdjust="spacingAndGlyphs">flow</text>
<text x="117.3" y="0" textLength="127.7" lengthAdjust="spacingAndGlyphs">stress</text>
<text x="257.3" y="0" textLength="27.4" lengthAdjust="spacingAndGlyphs" font-style="italic">σ</text>
<text x="326.3" y="0" textLength="138.5" lengthAdjust="spacingAndGlyphs">(MPa)</text>
<text x="283.5" y="-19" textLength="28.2" lengthAdjust="spacingAndGlyphs" font-style="italic" font-size="40">y</text>
</g>
<text x="1958.4" y="163" textLength="23.9" lengthAdjust="spacingAndGlyphs" font-style="italic">ε</text>
<text x="1963.5" y="164">˙</text>
<text x="1998.0" y="163" textLength="41.7" lengthAdjust="spacingAndGlyphs">=</text>
<text x="2056.8" y="163" textLength="120.9" lengthAdjust="spacingAndGlyphs">0.001</text>
<text x="2194.9" y="163" textLength="23.5" lengthAdjust="spacingAndGlyphs">s</text>
<text x="2220.8" y="142.5" textLength="51.2" lengthAdjust="spacingAndGlyphs" font-size="41">−1</text>
<text x="1958.4" y="245" textLength="23.9" lengthAdjust="spacingAndGlyphs" font-style="italic">ε</text>
<text x="1963.5" y="246">˙</text>
<text x="1998.0" y="245" textLength="41.7" lengthAdjust="spacingAndGlyphs">=</text>
<text x="2056.8" y="245" textLength="93.6" lengthAdjust="spacingAndGlyphs">0.01</text>
<text x="2167.5" y="245" textLength="23.5" lengthAdjust="spacingAndGlyphs">s</text>
<text x="2193.4" y="224.5" textLength="51.2" lengthAdjust="spacingAndGlyphs" font-size="41">−1</text>
<text x="1958.4" y="327" textLength="23.9" lengthAdjust="spacingAndGlyphs" font-style="italic">ε</text>
<text x="1963.5" y="328">˙</text>
<text x="1998.0" y="327" textLength="41.7" lengthAdjust="spacingAndGlyphs">=</text>
<text x="2056.8" y="327" textLength="66.2" lengthAdjust="spacingAndGlyphs">0.1</text>
<text x="2140.2" y="327" textLength="23.5" lengthAdjust="spacingAndGlyphs">s</text>
<text x="2166.1" y="306.5" textLength="51.2" lengthAdjust="spacingAndGlyphs" font-size="41">−1</text>
</g>
</svg></body></html>
